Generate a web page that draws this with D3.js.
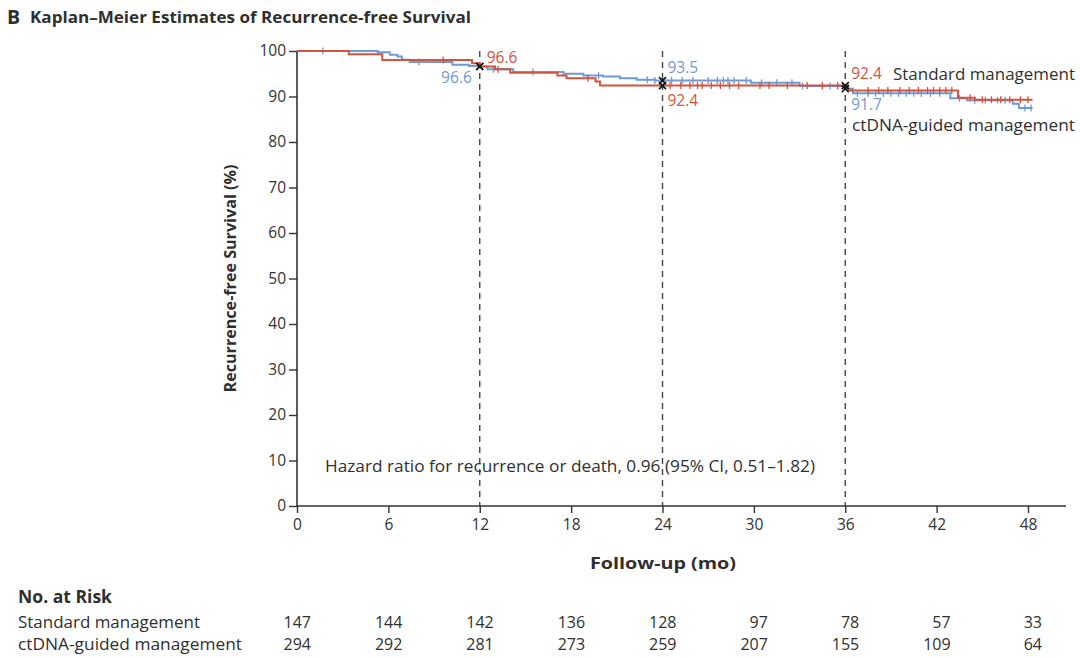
<!DOCTYPE html>
<html><head><meta charset="utf-8">
<script src="https://cdn.jsdelivr.net/npm/d3@7"></script>
<style>
body{margin:0;background:#fff;}
svg{display:block;}
text{font-family:"Open Sans","Noto Sans",sans-serif;}
</style></head>
<body><svg id="c" width="1080" height="658"></svg>
<script>
// ---- data ----
const xTicks = [0, 6, 12, 18, 24, 30, 36, 42, 48];
const yTicks = [0, 10, 20, 30, 40, 50, 60, 70, 80, 90, 100];
const landmarks = [12, 24, 36];

const stdTimes = [0, 3.4, 5.6, 11.5, 12.0, 13.0, 14.0, 17.1, 17.7, 19.6, 19.9, 36.2, 43.4, 44.5, 48.3];
const stdSurv  = [100, 99.3, 98.0, 97.3, 96.6, 96.0, 95.2, 94.6, 94.0, 93.3, 92.4, 91.3, 89.7, 89.3, 89.3];
const stdCensor = [9.6, 13.2, 19.1, 24.5, 25.2, 25.8, 26.3, 26.6, 27.2, 27.8, 28.4, 29.0, 30.4, 31.0, 32.2, 33.5, 34.5, 35.5,
  37.5, 38.2, 38.8, 39.6, 40.2, 40.8, 41.4, 41.8, 42.2, 42.6, 43.0, 44.2, 45.0, 45.6, 46.2, 46.8, 47.5, 48.0];

const ctTimes = [0, 5.3, 6.1, 6.6, 6.9, 7.4, 10.2, 11.3, 12.0, 12.5, 14.2, 17.5, 18.8, 20.1, 21.2, 22.3, 23.5, 29.8, 33.0, 36.0, 36.5, 42.9, 44.0, 47.0, 47.4, 48.3];
const ctSurv  = [100, 99.7, 99.2, 98.8, 98.1, 97.6, 97.0, 96.7, 96.6, 96.0, 95.4, 95.0, 94.6, 94.4, 94.0, 93.7, 93.5, 93.0, 92.3, 91.7, 90.7, 89.6, 89.2, 88.4, 87.5, 87.5];
const ctCensor = [1.7, 8.0, 12.9, 15.5, 19.8, 23.0, 23.5, 24.6, 25.3, 26.0, 27.0, 27.6, 28.0, 28.3, 28.7, 29.5, 30.5, 31.5, 32.5, 33.2, 34.5, 35.0, 35.5,
  36.8, 37.5, 38.0, 38.5, 39.0, 39.5, 40.0, 40.5, 41.0, 41.6, 42.2, 43.5, 44.5, 45.2, 46.0, 46.5, 47.8, 48.2];

const stdLandmark = [96.6, 92.4, 92.4];
const ctLandmark  = [96.6, 93.5, 91.7];

const riskGroups = ["Standard management", "ctDNA-guided management"];
const riskStd = [147, 144, 142, 136, 128, 97, 78, 57, 33];
const riskCt  = [294, 292, 281, 273, 259, 207, 155, 109, 64];

const RED = "#d4533d", BLUE = "#6e9ad6", INK = "#2f2f2f";

// ---- scales ----
const svg = d3.select("#c");
const x = d3.scaleLinear().domain([0, 48]).range([297, 1028]);
const y = d3.scaleLinear().domain([0, 100]).range([506, 51]);

const T = (tx, ty, txt, size, opts = {}) => {
  const t = svg.append("text").attr("x", tx).attr("y", ty).style("font-size", size + "px")
    .style("fill", opts.color || INK).style("font-weight", opts.bold ? 700 : 400)
    .attr("text-anchor", opts.anchor || "start").text(txt);
  if (opts.len) t.attr("textLength", opts.len).attr("lengthAdjust", "spacingAndGlyphs");
  return t;
};

// title
T(7, 24, "B", 19.5, {bold: true});
T(30, 23, "Kaplan\u2013Meier Estimates of Recurrence-free Survival", 16.5, {bold: true, len: 441});

// dashed landmark lines
svg.selectAll(".lm").data(landmarks).join("line")
  .attr("x1", d => x(d)).attr("x2", d => x(d)).attr("y1", y(100)).attr("y2", y(0))
  .attr("stroke", "#444").attr("stroke-width", 1.4).attr("stroke-dasharray", "6,5");

// axes
const yAxis = svg.append("g").attr("transform", `translate(${x(0)},0)`)
  .call(d3.axisLeft(y).tickValues(yTicks).tickSize(8).tickPadding(3));
const xAxis = svg.append("g").attr("transform", `translate(0,${y(0)})`)
  .call(d3.axisBottom(x).tickValues(xTicks).tickSize(7).tickPadding(6));
[yAxis, xAxis].forEach(g => {
  g.select(".domain").remove();
  g.selectAll(".tick line").attr("stroke", "#333").attr("stroke-width", 1.4);
  g.selectAll(".tick text").style("fill", "#333").style("font-size", "15.5px");
});
svg.append("line").attr("x1", x(0)).attr("x2", x(0)).attr("y1", y(100)).attr("y2", y(0) + 1)
  .attr("stroke", "#333").attr("stroke-width", 1.6);
svg.append("line").attr("x1", x(0)).attr("x2", 1066).attr("y1", y(0)).attr("y2", y(0))
  .attr("stroke", "#333").attr("stroke-width", 1.6);

// axis titles
svg.append("text").attr("transform", `translate(236,${y(50)}) rotate(-90)`).attr("text-anchor", "middle")
  .style("font-size", "16px").style("font-weight", 700).style("fill", INK)
  .attr("textLength", 228).attr("lengthAdjust", "spacingAndGlyphs")
  .text("Recurrence-free Survival (%)");
T(663, 569, "Follow-up (mo)", 16, {bold: true, anchor: "middle", len: 146});

// curves
const line = d3.line().x(d => x(d[0])).y(d => y(d[1])).curve(d3.curveStepAfter);
function drawCurve(times, surv, censor, color) {
  const pts = times.map((t, i) => [t, surv[i]]);
  svg.append("path").attr("d", line(pts)).attr("fill", "none").attr("stroke", color).attr("stroke-width", 2);
  const val = t => { let v = surv[0]; for (let i = 0; i < times.length; i++) if (times[i] <= t) v = surv[i]; return v; };
  svg.append("g").selectAll("line").data(censor).join("line")
    .attr("x1", d => x(d)).attr("x2", d => x(d))
    .attr("y1", d => y(val(d)) - 3.5).attr("y2", d => y(val(d)) + 3.5)
    .attr("stroke", color).attr("stroke-width", 1.3);
}
drawCurve(ctTimes, ctSurv, ctCensor, BLUE);
drawCurve(stdTimes, stdSurv, stdCensor, RED);

// landmark X markers
function drawX(t, v) {
  const cx = x(t), cy = y(v), s = 3.5;
  svg.append("path").attr("d", `M${cx - s},${cy - s}L${cx + s},${cy + s}M${cx - s},${cy + s}L${cx + s},${cy - s}`)
    .attr("stroke", "#111").attr("stroke-width", 1.6);
}
landmarks.forEach((t, i) => { drawX(t, stdLandmark[i]); drawX(t, ctLandmark[i]); });

// landmark labels
T(x(12) + 7, 63, stdLandmark[0].toFixed(1), 15.5, {color: RED});
T(x(12) - 8, 83, ctLandmark[0].toFixed(1), 15.5, {color: BLUE, anchor: "end"});
T(x(24) + 5, 73, ctLandmark[1].toFixed(1), 15.5, {color: BLUE});
T(x(24) + 5, 106, stdLandmark[1].toFixed(1), 15.5, {color: RED});
T(x(36) + 6, 79, stdLandmark[2].toFixed(1), 15.5, {color: RED});
T(x(36) + 6, 110, ctLandmark[2].toFixed(1), 15.5, {color: BLUE});
T(893, 80, riskGroups[0], 15.5, {len: 182});
T(852, 131, riskGroups[1], 15.5, {len: 223});

// hazard ratio
T(325, 472, "Hazard ratio for recurrence or death, 0.96 (95% CI, 0.51\u20131.82)", 15.5, {len: 490});

// at risk table
T(18, 603, "No. at Risk", 17, {bold: true, len: 94});
const rowY = [628, 650];
[riskStd, riskCt].forEach((arr, r) => {
  T(18, rowY[r], riskGroups[r], 16, {len: r === 0 ? 182 : 224});
  svg.append("g").selectAll("text").data(arr).join("text")
    .attr("x", (d, i) => x(xTicks[i]) + 14).attr("y", rowY[r]).attr("text-anchor", "end")
    .style("font-size", "16px").style("fill", INK).text(d => d);
});
</script></body></html>
